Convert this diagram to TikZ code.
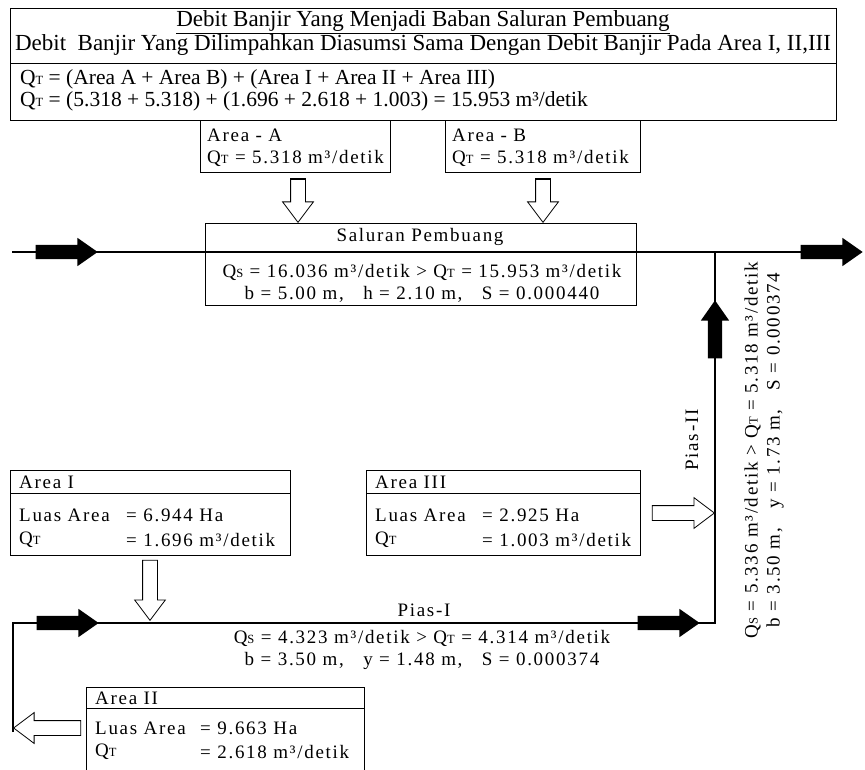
\documentclass[tikz,border=0pt]{standalone}
\usepackage{fontspec}
\setmainfont{Liberation Serif}
\newfontfamily\headfont{Liberation Serif}
\newfontfamily\boxfont{Liberation Serif}[LetterSpace=9]
\usetikzlibrary{shapes.arrows}
\newcommand{\sm}[1]{{\fontsize{12.5}{12.5}\selectfont #1}}
\newcommand{\QT}{Q\sm{T}}
\newcommand{\Qs}{Q\sm{S}}

\begin{document}
\begin{tikzpicture}[x=1pt,y=-1pt,
  pipe/.style={line width=2.6pt},
  box/.style={draw,line width=0.8pt,fill=white,inner sep=0,anchor=north west},
  txt/.style={inner sep=0,anchor=west,font=\boxfont\fontsize{19}{22}\selectfont},
  headtxt/.style={inner sep=0,font=\headfont\fontsize{23}{23}\selectfont},
  flow/.style={single arrow,fill=black,inner sep=7,minimum height=62,single arrow head extend=7,single arrow tip angle=70},
  hollow/.style={single arrow,draw,line width=0.8pt,fill=white,inner sep=7,single arrow head extend=8,single arrow tip angle=74}]
\useasboundingbox (0,0) rectangle (865,770);

% --- channel lines
\coordinate (inL) at (12,252);
\coordinate (outR) at (850,252);
\coordinate (junc) at (715,252);
\coordinate (bend) at (715,623);
\coordinate (startI) at (13,623);
\coordinate (endII) at (13,732);
\draw[pipe] (inL) -- (outR); % --- saluran pembuang
\draw[pipe,line join=miter] (endII) -- (startI) -- (bend) -- (junc); % --- pias I, pias II

% --- top box
\node[box,minimum width=826,minimum height=112] (head) at (10,8) {};
\draw[line width=0.8pt] ([yshift=-55]head.north west) -- ([yshift=-55]head.north east);
\node[headtxt] (title) at (423,22) {\underline{Debit Banjir Yang Menjadi Baban Saluran Pembuang}};
\node[headtxt] (subtitle) at (423,45) {Debit\ \ Banjir Yang Dilimpahkan Diasumsi Sama Dengan Debit Banjir Pada Area I, II,III};
\node[headtxt,anchor=west,font=\headfont\fontsize{21.5}{21.5}\selectfont] (qtsum) at (20,79) {\QT{} = (Area A + Area B) + (Area I + Area II + Area III)};
\node[headtxt,anchor=west,font=\headfont\fontsize{21.5}{21.5}\selectfont] (qtval) at (20,101) {\QT{} = (5.318 + 5.318) + (1.696 + 2.618 + 1.003) = 15.953 m³/detik};

% --- area A and B
\node[box,minimum width=190,minimum height=52] (areaA) at (200,120) {};
\node[txt] (areaAname) at (207,135) {Area - A};
\node[txt] (areaAq) at (207,158) {\QT{} = 5.318 m³/detik};
\node[box,minimum width=195,minimum height=52] (areaB) at (445,120) {};
\node[txt] (areaBname) at (452,135) {Area - B};
\node[txt] (areaBq) at (452,158) {\QT{} = 5.318 m³/detik};

% --- saluran pembuang
\node[box,fill=none,minimum width=431,minimum height=82] (sal) at (205,223) {};
\node[txt,anchor=center] (salname) at (420,237) {Saluran Pembuang};
\node[txt,anchor=center] (salq) at (422,272) {\Qs{} = 16.036 m³/detik > \QT{} = 15.953 m³/detik};
\node[txt,anchor=center] (saldim) at (422,294) {b = 5.00 m,\ \ \ h = 2.10 m,\ \ \ S = 0.000440};

% --- area I and III
\node[box,minimum width=280,minimum height=85] (area1) at (10,470) {};
\draw[line width=0.8pt] ([yshift=-23]area1.north west) -- ([yshift=-23]area1.north east);
\node[txt] (area1name) at (19,482) {Area I};
\node[txt] (area1luas) at (19,515) {Luas Area};
\node[txt] (area1ha) at (126,515) {= 6.944 Ha};
\node[txt] (area1qt) at (19,540) {\QT};
\node[txt] (area1q) at (126,540) {= 1.696 m³/detik};
\node[box,minimum width=274,minimum height=85] (area3) at (366,470) {};
\draw[line width=0.8pt] ([yshift=-23]area3.north west) -- ([yshift=-23]area3.north east);
\node[txt] (area3name) at (375,482) {Area III};
\node[txt] (area3luas) at (375,515) {Luas Area};
\node[txt] (area3ha) at (482,515) {= 2.925 Ha};
\node[txt] (area3qt) at (375,540) {\QT};
\node[txt] (area3q) at (482,540) {= 1.003 m³/detik};

% --- area II
\node[box,minimum width=278,minimum height=100] (area2) at (86,687) {};
\draw[line width=0.8pt] ([yshift=-21]area2.north west) -- ([yshift=-21]area2.north east);
\node[txt] (area2name) at (95,698) {Area II};
\node[txt] (area2luas) at (95,728) {Luas Area};
\node[txt] (area2ha) at (200,728) {= 9.663 Ha};
\node[txt] (area2qt) at (95,752) {\QT};
\node[txt] (area2q) at (200,752) {= 2.618 m³/detik};

% --- pias labels
\node[txt,anchor=center] (pias1) at (424,610) {Pias-I};
\node[txt,anchor=center] (pias1q) at (422,638) {\Qs{} = 4.323 m³/detik > \QT{} = 4.314 m³/detik};
\node[txt,anchor=center] (pias1dim) at (422,661) {b = 3.50 m,\ \ \ y = 1.48 m,\ \ \ S = 0.000374};
\node[txt,anchor=center,rotate=90] (pias2) at (692,440) {Pias-II};
\node[txt,anchor=center,rotate=90,align=center] (pias2q) at (764,450) {\Qs{} = 5.336 m³/detik > \QT{} = 5.318 m³/detik\\b = 3.50 m,\ \ \ y = 1.73 m,\ \ \ S = 0.000374};

% --- flow direction arrows
\node[flow,anchor=tip] (fin) at (98,252) {};
\node[flow,anchor=tip] (fout) at (863,252) {};
\node[flow,anchor=tip,shape border rotate=90,minimum height=58] (fup) at (715,300) {};
\node[flow,anchor=tip] (fI) at (99,623) {};
\node[flow,anchor=tip] (fIend) at (700,623) {};

% --- inflow from the areas
\node[hollow,anchor=tip,shape border rotate=270,minimum height=43] (inA) at (298,223) {};
\node[hollow,anchor=tip,shape border rotate=270,minimum height=43] (inB) at (543,223) {};
\draw[line width=2.4pt] (inA.before tail) -- (inA.after tail);
\draw[line width=2.4pt] (inB.before tail) -- (inB.after tail);
\node[hollow,anchor=tip,shape border rotate=270,minimum height=60] (in1) at (150,621) {};
\node[hollow,anchor=tip,minimum height=62] (in3) at (715,513) {};
\node[hollow,anchor=tip,shape border rotate=180,minimum height=67] (in2) at (13,728) {};
\end{tikzpicture}
\end{document}
